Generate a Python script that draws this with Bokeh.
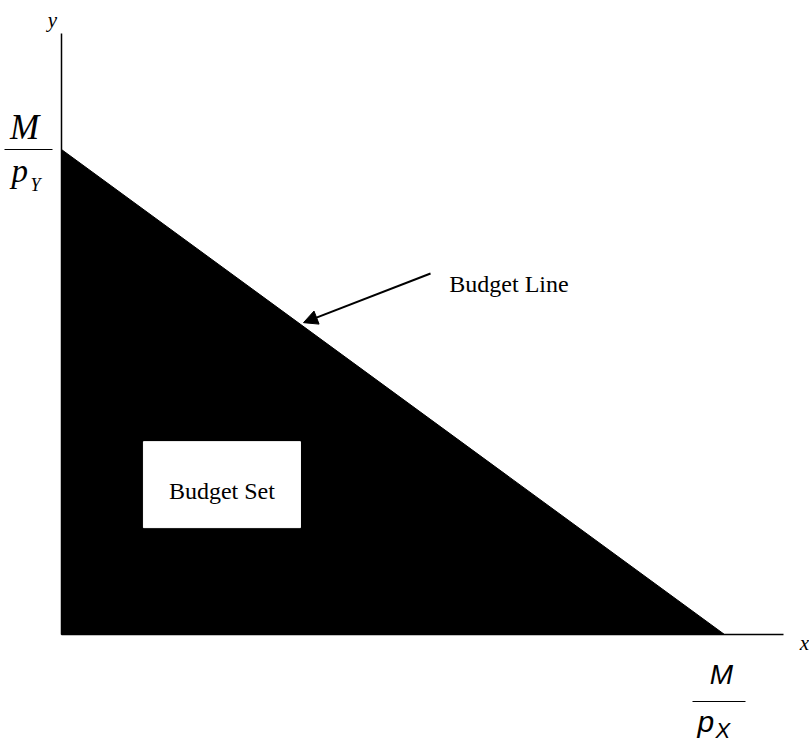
from bokeh.plotting import figure
from bokeh.models import Range1d, Arrow, NormalHead
from bokeh.core.properties import value
from bokeh.embed import file_html
from bokeh.resources import INLINE

# ---- data (economic model) ----
M = 100.0          # income
p_X = 10.0         # price of good x
p_Y = 10.0         # price of good y
x_int = M / p_X    # M/p_X
y_int = M / p_Y    # M/p_Y

# axis extents (data units)
x_axis_end = 10.89
y_axis_end = 12.39

# budget set region (triangle under budget line)
set_x = [0.0, x_int, 0.0]
set_y = [0.0, 0.0, y_int]

# label texts
budget_line_label = "Budget Line"
budget_set_label = "Budget Set"
x_label = "x"
y_label = "y"

# ---- layout (pixels per data unit) ----
W, H = 809, 742
XS, YS = 66.3, 48.5
ox, oy = 61.0, 634.0   # origin position within the frame (px)

p = figure(width=W, height=H,
           x_range=Range1d(-ox / XS, (W - ox) / XS),
           y_range=Range1d(-(H - oy) / YS, oy / YS),
           x_axis_type=None, y_axis_type=None,
           output_backend="svg", toolbar_location=None,
           min_border=0, outline_line_color=None)
p.grid.visible = False

serif = value("Liberation Serif")
sans = value("Liberation Sans")

# budget set
p.patch(set_x, set_y, fill_color="black", line_color="black", line_width=1)

# axes
p.segment(x0=[0, 0], y0=[0, 0], x1=[x_axis_end, 0], y1=[0, y_axis_end],
          line_color="black", line_width=1.5)

# axis letters
p.text(x=[0], y=[y_axis_end], text=[y_label], x_offset=-9, y_offset=-14,
       text_align="center", text_baseline="middle", text_font=serif,
       text_font_style="italic", text_font_size="21px", text_color="black")
p.text(x=[x_axis_end], y=[0], text=[x_label], x_offset=21, y_offset=8,
       text_align="center", text_baseline="middle", text_font=serif,
       text_font_style="italic", text_font_size="21px", text_color="black")

# M / p_Y label at the y intercept
p.segment(x0=[-57 / XS], y0=[y_int], x1=[-9 / XS], y1=[y_int],
          line_color="black", line_width=1)
p.text(x=[0], y=[y_int], text=["M"], x_offset=-37, y_offset=-22,
       text_align="center", text_baseline="alphabetic", text_font=serif,
       text_font_style="italic", text_font_size="35px", text_color="black")
p.text(x=[0], y=[y_int], text=["p"], x_offset=-50, y_offset=21,
       text_align="left", text_baseline="alphabetic", text_font=serif,
       text_font_style="italic", text_font_size="33px", text_color="black")
p.text(x=[0], y=[y_int], text=["Y"], x_offset=-31, y_offset=35,
       text_align="left", text_baseline="alphabetic", text_font=serif,
       text_font_style="italic", text_font_size="18px", text_color="black")

# M / p_X label below the x intercept
p.segment(x0=[x_int - 32 / XS], y0=[-67 / YS], x1=[x_int + 21 / XS], y1=[-67 / YS],
          line_color="black", line_width=1)
p.text(x=[x_int], y=[0], text=["M"], x_offset=-3, y_offset=40,
       text_align="center", text_baseline="alphabetic", text_font=sans,
       text_font_style="italic", text_font_size="28px", text_color="black")
p.text(x=[x_int], y=[0], text=["p"], x_offset=-27, y_offset=87,
       text_align="left", text_baseline="alphabetic", text_font=sans,
       text_font_style="italic", text_font_size="30px", text_color="black")
p.text(x=[x_int], y=[0], text=["X"], x_offset=-9, y_offset=96,
       text_align="left", text_baseline="alphabetic", text_font=sans,
       text_font_style="italic", text_font_size="22px", text_color="black")

# Budget Set white box
bs_x, bs_y = 2.42, 3.09
p.rect(x=[bs_x], y=[bs_y], width=157, height=86, width_units="screen",
       height_units="screen", fill_color="white", line_color="white")
p.text(x=[bs_x], y=[bs_y], text=[budget_set_label], y_offset=6,
       text_align="center", text_baseline="middle", text_font=serif,
       text_font_size="24px", text_color="black")

# Budget Line label + arrow
bl_x, bl_y = 5.85, 7.05
p.text(x=[bl_x], y=[bl_y], text=[budget_line_label], y_offset=-9,
       text_align="left", text_baseline="alphabetic", text_font=serif,
       text_font_size="24px", text_color="black")
tip_x = 3.65
tip_y = y_int - tip_x * p_X / p_Y + 0.08
p.add_layout(Arrow(end=NormalHead(size=14, fill_color="black", line_color="black"),
                   x_start=5.566, y_start=7.443, x_end=tip_x, y_end=tip_y,
                   line_color="black", line_width=2))

open("out.html", "w").write(file_html(p, INLINE))
